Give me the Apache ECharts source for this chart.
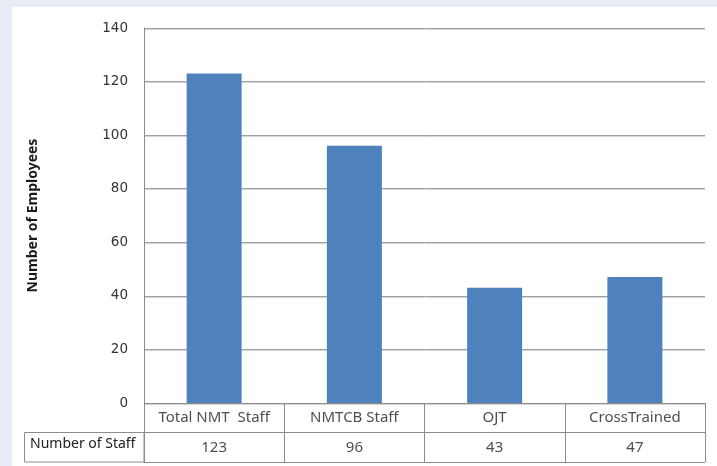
<!DOCTYPE html>
<html>
<head>
<meta charset="utf-8">
<style>
  html, body { margin: 0; padding: 0; background: #e8ecf4; }
  #chart { width: 717px; height: 466px; }
</style>
<script src="https://cdn.jsdelivr.net/npm/echarts@6/dist/echarts.min.js"></script>
</head>
<body>
<div id="chart"></div>
<script>
// Staff categories and head counts
const categories = ['Total NMT  Staff', 'NMTCB Staff', 'OJT', 'CrossTrained'];
const staffCounts = [123, 96, 43, 47];
const rowLabel = 'Number of Staff';
const axisTitle = 'Number of Employees';

const gridLeft = 144, gridRight = 12, plotTop = 28, plotBottom = 403, tableBottom = 462;
const font = '"Noto Sans", "Open Sans", sans-serif';
const tickFont = '"DejaVu Sans", sans-serif';
const borderColor = '#8c8c8c';
const rowMid = (plotBottom + tableBottom) / 2;

const chart = echarts.init(document.getElementById('chart'));
chart.setOption({
  backgroundColor: '#e8ecf4',
  animation: false,
  graphic: [
    { type: 'rect', z: -10, shape: { x: 12, y: 7, width: 717 - 12, height: 466 - 7 }, style: { fill: '#ffffff' } },
    // row header cell of the data table
    { type: 'rect', z: 10, shape: { x: 24.5, y: rowMid, width: gridLeft - 24.5, height: tableBottom - rowMid },
      style: { fill: 'none', stroke: borderColor, lineWidth: 1 } },
    { type: 'text', z: 10, left: 30, top: rowMid + 5,
      style: { text: rowLabel, font: '14px ' + font, fill: '#222' } }
  ],
  grid: [
    { left: gridLeft, right: gridRight, top: plotTop, bottom: 466 - plotBottom },
    { left: gridLeft, right: gridRight, top: plotBottom, bottom: 466 - tableBottom }
  ],
  xAxis: [
    { type: 'category', gridIndex: 0, data: categories,
      axisLine: { show: false }, axisTick: { show: false }, axisLabel: { show: false } },
    { type: 'category', gridIndex: 1, data: categories,
      axisLine: { show: false }, axisTick: { show: false }, axisLabel: { show: false },
      splitLine: { show: true, lineStyle: { color: borderColor, width: 1 } } }
  ],
  yAxis: [
    { type: 'value', gridIndex: 0, min: 0, max: 140, interval: 20,
      name: axisTitle, nameLocation: 'middle', nameGap: 104,
      nameTextStyle: { fontFamily: font, fontSize: 14, color: '#1a1a1a', fontWeight: 'bold' },
      axisLine: { show: true, lineStyle: { color: '#8c8c8c', width: 1 } },
      axisTick: { show: false },
      axisLabel: { margin: 16, fontFamily: tickFont, fontSize: 13.5, color: '#333' },
      splitLine: { show: true, lineStyle: { color: '#a0a0a0', width: 1, shadowColor: 'rgba(0,0,0,0.2)', shadowOffsetY: 1, shadowBlur: 1 } } },
    { type: 'value', gridIndex: 1, min: 0, max: 2, interval: 1,
      axisLine: { show: false }, axisTick: { show: false }, axisLabel: { show: false },
      splitLine: { show: true, lineStyle: { color: borderColor, width: 1 } } }
  ],
  series: [
    { type: 'bar', xAxisIndex: 0, yAxisIndex: 0, data: staffCounts, barWidth: 55,
      itemStyle: { color: '#4f81bd' } },
    // data table: category row
    { type: 'scatter', xAxisIndex: 1, yAxisIndex: 1, symbolSize: 0, silent: true,
      data: categories.map((c, i) => [i, 1.5]),
      label: { show: true, position: 'inside', formatter: p => categories[p.data[0]],
               fontFamily: font, fontSize: 15, color: '#222' } },
    // data table: value row
    { type: 'scatter', xAxisIndex: 1, yAxisIndex: 1, symbolSize: 0, silent: true,
      data: staffCounts.map((v, i) => [i, 0.5]),
      label: { show: true, position: 'inside', formatter: p => String(staffCounts[p.data[0]]),
               fontFamily: font, fontSize: 15, color: '#222' } }
  ]
});
</script>
</body>
</html>
